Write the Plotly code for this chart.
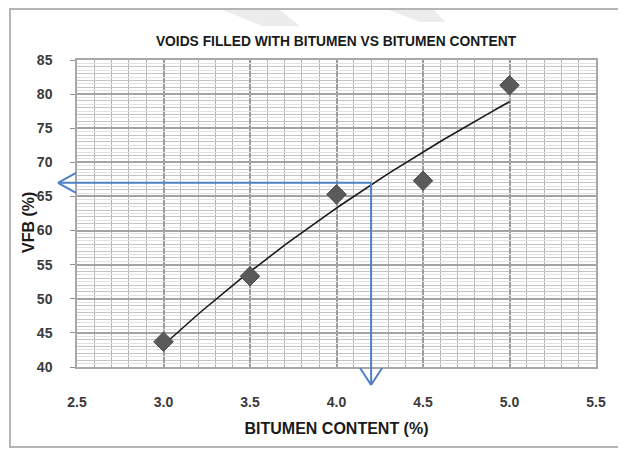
import numpy as np
import plotly.graph_objects as go

# ---- data ----
bitumen = [3.0, 3.5, 4.0, 4.5, 5.0]
vfb = [43.7, 53.3, 65.3, 67.3, 81.3]
design_bitumen = 4.2
design_vfb = 67.0

x_ticks = [2.5, 3.0, 3.5, 4.0, 4.5, 5.0, 5.5]
x_tick_labels = ["2.5", "3.0", "3.5", "4.0", "4.5", "5.0", "5.5"]
y_ticks = [40, 45, 50, 55, 60, 65, 70, 75, 80, 85]

title_text = "VOIDS FILLED WITH BITUMEN VS BITUMEN CONTENT"
x_title = "BITUMEN CONTENT (%)"
y_title = "VFB (%)"

# logarithmic trendline (Excel-style) fitted to the data
coef = np.polyfit(np.log(bitumen), vfb, 1)
trend_x = np.linspace(min(bitumen), max(bitumen), 60)
trend_y = coef[0] * np.log(trend_x) + coef[1]

# ---- layout geometry ----
OFF = 8  # page body margin
W, H = 626 - OFF, 449 - OFF
ML, MT = 77 - OFF, 60 - OFF
MR = W - (596 - OFF)
MB = H - (367 - OFF)
PW, PH = W - ML - MR, H - MT - MB
X_RANGE = [2.5, 5.5]
Y_RANGE = [40, 85]


def xp(v):
    return (v - X_RANGE[0]) / (X_RANGE[1] - X_RANGE[0])


def yp(v):
    return (v - Y_RANGE[0]) / (Y_RANGE[1] - Y_RANGE[0])


def px_x(p):  # screen pixel -> paper
    return (p - OFF - ML) / PW


def px_y(p):
    return (H - MB - (p - OFF)) / PH


def dx(p):
    return p / PW


def dy(p):
    return p / PH


fig = go.Figure()

fig.add_trace(go.Scatter(
    x=trend_x, y=trend_y, mode="lines",
    line=dict(color="#1a1a1a", width=1.6),
    hoverinfo="skip", showlegend=False,
))
fig.add_trace(go.Scatter(
    x=bitumen, y=vfb, mode="markers",
    marker=dict(symbol="diamond", size=15, color="#5a5a5a",
                line=dict(color="#4a4a4a", width=1)),
    showlegend=False,
))
# invisible trace to activate the overlay axis for extra half-unit grid
fig.add_trace(go.Scatter(x=[X_RANGE[0]], y=[Y_RANGE[0]], yaxis="y2",
                         mode="markers", marker=dict(opacity=0),
                         hoverinfo="skip", showlegend=False))

shapes = []
blue = "#4f81c4"
hx, hy = xp(design_bitumen), yp(design_vfb)
tip_left = dx(-19)
tip_bottom = dy(-18)
shapes.append(dict(type="line", xref="paper", yref="paper",
                   x0=hx, y0=hy, x1=tip_left, y1=hy,
                   line=dict(color=blue, width=2)))
shapes.append(dict(type="line", xref="paper", yref="paper",
                   x0=hx, y0=hy, x1=hx, y1=tip_bottom,
                   line=dict(color=blue, width=2)))
for s in (1, -1):
    shapes.append(dict(type="line", xref="paper", yref="paper",
                       x0=tip_left, y0=hy, x1=tip_left + dx(18), y1=hy + s * dy(10),
                       line=dict(color=blue, width=2)))
    shapes.append(dict(type="line", xref="paper", yref="paper",
                       x0=hx, y0=tip_bottom, x1=hx + s * dx(11), y1=tip_bottom + dy(17),
                       line=dict(color=blue, width=2)))

# faint watermark stripes at top
for pts in ([(198, 0), (268, 0), (300, 26), (262, 26)],
            [(362, 0), (425, 0), (445, 22), (420, 22)]):
    path = "M " + " L ".join(f"{px_x(a)},{px_y(b)}" for a, b in pts) + " Z"
    shapes.append(dict(type="path", xref="paper", yref="paper", path=path,
                       fillcolor="#ececec", line=dict(width=0), layer="below"))

# outer chart frame
shapes.append(dict(type="rect", xref="paper", yref="paper",
                   x0=px_x(10), x1=px_x(619), y0=px_y(447), y1=px_y(9),
                   line=dict(color="#b5b5b5", width=2)))
shapes.append(dict(type="line", xref="paper", yref="paper",
                   x0=px_x(7), x1=px_x(7), y0=px_y(447), y1=px_y(8),
                   line=dict(color="#222222", width=2)))

tick_font = dict(family="Liberation Sans", size=14, color="#3a3a3a")
title_font = dict(family="Liberation Sans", size=16, color="#1a1a1a")

fig.update_layout(
    width=W, height=H,
    margin=dict(l=ML, r=MR, t=MT, b=MB),
    paper_bgcolor="white", plot_bgcolor="white",
    title=dict(text="<b>" + title_text + "</b>", x=(336 - OFF) / W,
               xanchor="center", y=1 - (41 - OFF) / H, yanchor="middle",
               font=dict(family="Liberation Sans", size=13.8, color="#1a1a1a")),
    shapes=shapes,
    annotations=[dict(text="<b>" + y_title + "</b>", xref="paper", yref="paper",
                      x=px_x(28), y=px_y(223), textangle=-90, showarrow=False,
                      xanchor="center", yanchor="middle", font=title_font)],
    xaxis=dict(
        range=X_RANGE, tickvals=x_ticks, ticktext=["<b>%s</b>" % t for t in x_tick_labels],
        tickfont=tick_font, ticks="", ticklabelstandoff=21,
        showgrid=True, gridcolor="#9c9c9c", gridwidth=1.5,
        minor=dict(dtick=0.1, showgrid=True, gridcolor="#b4b4b4", gridwidth=1),
        showline=True, linecolor="#a8a8a8", linewidth=1.5, mirror=True,
        zeroline=False, fixedrange=True,
        title=dict(text="<b>" + x_title + "</b>", standoff=14, font=title_font),
    ),
    yaxis=dict(
        range=Y_RANGE, tickvals=y_ticks, ticktext=["<b>%d</b>" % t for t in y_ticks],
        tickfont=tick_font, ticks="outside", ticklen=5, tickcolor="#909090",
        ticklabelstandoff=15,
        showgrid=True, gridcolor="#a3a3a3", gridwidth=1.5,
        minor=dict(dtick=1, showgrid=True, gridcolor="#c4c4c4", gridwidth=1),
        showline=True, linecolor="#a8a8a8", linewidth=1.5, mirror=True,
        zeroline=False, fixedrange=True,
    ),
    yaxis2=dict(
        range=Y_RANGE, overlaying="y", side="left", showticklabels=False,
        tick0=40.5, dtick=1, showgrid=True, gridcolor="#e2e2e2", gridwidth=1,
        zeroline=False, showline=False, fixedrange=True,
    ),
)

fig.write_html("out.html")
